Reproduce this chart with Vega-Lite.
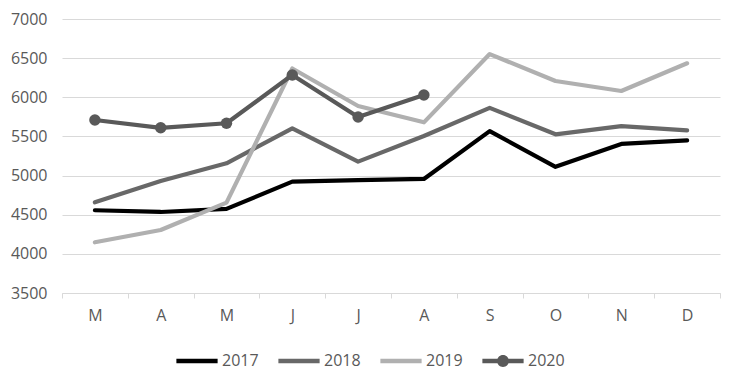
{
  "$schema": "https://vega.github.io/schema/vega-lite/v6.json",
  "autosize": "none",
  "width": 658,
  "height": 274,
  "padding": {"left": 62, "top": 19, "right": 11, "bottom": 85},
  "background": "#ffffff",
  "config": {
    "view": {"stroke": null},
    "font": "Open Sans",
    "axis": {"labelFont": "Open Sans", "labelFontSize": 16, "labelColor": "#595959"},
    "legend": {"labelFont": "Open Sans", "labelFontSize": 16, "labelColor": "#595959"}
  },
  "data": {
    "values": [
      {"month": "Mar", "year": "2017", "value": 4557},
      {"month": "Apr", "year": "2017", "value": 4535},
      {"month": "May", "year": "2017", "value": 4575},
      {"month": "Jun", "year": "2017", "value": 4922},
      {"month": "Jul", "year": "2017", "value": 4942},
      {"month": "Aug", "year": "2017", "value": 4957},
      {"month": "Sep", "year": "2017", "value": 5568},
      {"month": "Oct", "year": "2017", "value": 5112},
      {"month": "Nov", "year": "2017", "value": 5404},
      {"month": "Dec", "year": "2017", "value": 5450},
      {"month": "Mar", "year": "2018", "value": 4659},
      {"month": "Apr", "year": "2018", "value": 4930},
      {"month": "May", "year": "2018", "value": 5157},
      {"month": "Jun", "year": "2018", "value": 5604},
      {"month": "Jul", "year": "2018", "value": 5178},
      {"month": "Aug", "year": "2018", "value": 5505},
      {"month": "Sep", "year": "2018", "value": 5865},
      {"month": "Oct", "year": "2018", "value": 5527},
      {"month": "Nov", "year": "2018", "value": 5632},
      {"month": "Dec", "year": "2018", "value": 5578},
      {"month": "Mar", "year": "2019", "value": 4148},
      {"month": "Apr", "year": "2019", "value": 4305},
      {"month": "May", "year": "2019", "value": 4655},
      {"month": "Jun", "year": "2019", "value": 6368},
      {"month": "Jul", "year": "2019", "value": 5889},
      {"month": "Aug", "year": "2019", "value": 5680},
      {"month": "Sep", "year": "2019", "value": 6552},
      {"month": "Oct", "year": "2019", "value": 6208},
      {"month": "Nov", "year": "2019", "value": 6080},
      {"month": "Dec", "year": "2019", "value": 6434},
      {"month": "Mar", "year": "2020", "value": 5710},
      {"month": "Apr", "year": "2020", "value": 5610},
      {"month": "May", "year": "2020", "value": 5668},
      {"month": "Jun", "year": "2020", "value": 6285},
      {"month": "Jul", "year": "2020", "value": 5748},
      {"month": "Aug", "year": "2020", "value": 6030}
    ]
  },
  "encoding": {
    "x": {
      "field": "month",
      "type": "nominal",
      "sort": ["Mar", "Apr", "May", "Jun", "Jul", "Aug", "Sep", "Oct", "Nov", "Dec"],
      "scale": {"domain": ["Mar", "Apr", "May", "Jun", "Jul", "Aug", "Sep", "Oct", "Nov", "Dec"], "paddingInner": 0, "paddingOuter": 0},
      "axis": {
        "title": null,
        "labelAngle": 0,
        "labelExpr": "datum.value ? substring(datum.value, 0, 1) : ''",
        "domainColor": "#d9d9d9",
        "domainWidth": 1,
        "tickColor": "#d9d9d9",
        "tickBand": "extent",
        "tickSize": 5,
        "labelPadding": 9,
        "grid": false
      }
    },
    "y": {
      "field": "value",
      "type": "quantitative",
      "scale": {"domain": [3500, 7000], "nice": false, "zero": false},
      "axis": {
        "title": null,
        "format": "d",
        "values": [3500, 4000, 4500, 5000, 5500, 6000, 6500, 7000],
        "grid": true,
        "gridColor": "#d9d9d9",
        "gridWidth": 1,
        "domain": false,
        "ticks": false,
        "labelPadding": 15
      }
    }
  },
  "layer": [
    {
      "mark": {"type": "point", "filled": true, "size": 1600, "opacity": 0},
      "encoding": {
        "fill": {
          "field": "year",
          "type": "nominal",
          "scale": {"domain": ["2017", "2018", "2019", "2020"], "range": ["#000000", "#686868", "#b0b0b0", "#595959"]},
          "legend": {
            "title": null,
            "orient": "none",
            "direction": "horizontal",
            "legendX": 114,
            "legendY": 321,
            "symbolSize": 1700,
            "symbolStrokeWidth": 0,
            "labelOffset": 4,
            "columnPadding": 19,
            "encode": {
              "symbols": {
                "update": {
                  "opacity": {"value": 1},
                  "fillOpacity": {"value": 1},
                  "strokeOpacity": {"value": 0}
                }
              }
            }
          }
        },
        "shape": {
          "field": "year",
          "type": "nominal",
          "scale": {
            "domain": ["2017", "2018", "2019", "2020"],
            "range": [
              "M-1,-0.11L1,-0.11L1,0.11L-1,0.11Z",
              "M-1,-0.11L1,-0.11L1,0.11L-1,0.11Z",
              "M-1,-0.11L1,-0.11L1,0.11L-1,0.11Z",
              "M-1,-0.11L1,-0.11L1,0.11L-1,0.11Z M0.29,0 A0.29,0.29 0 1,1 -0.29,0 A0.29,0.29 0 1,1 0.29,0Z"
            ]
          }
        }
      }
    },
    {
      "mark": {"type": "line", "strokeWidth": 4.2, "strokeCap": "round", "strokeJoin": "round"},
      "encoding": {
        "color": {
          "field": "year",
          "type": "nominal",
          "scale": {"domain": ["2017", "2018", "2019", "2020"], "range": ["#000000", "#686868", "#b0b0b0", "#595959"]},
          "legend": null
        }
      }
    },
    {
      "transform": [{"filter": "datum.year == '2020'"}],
      "mark": {"type": "point", "filled": true, "size": 130, "fill": "#595959", "opacity": 1}
    }
  ]
}
